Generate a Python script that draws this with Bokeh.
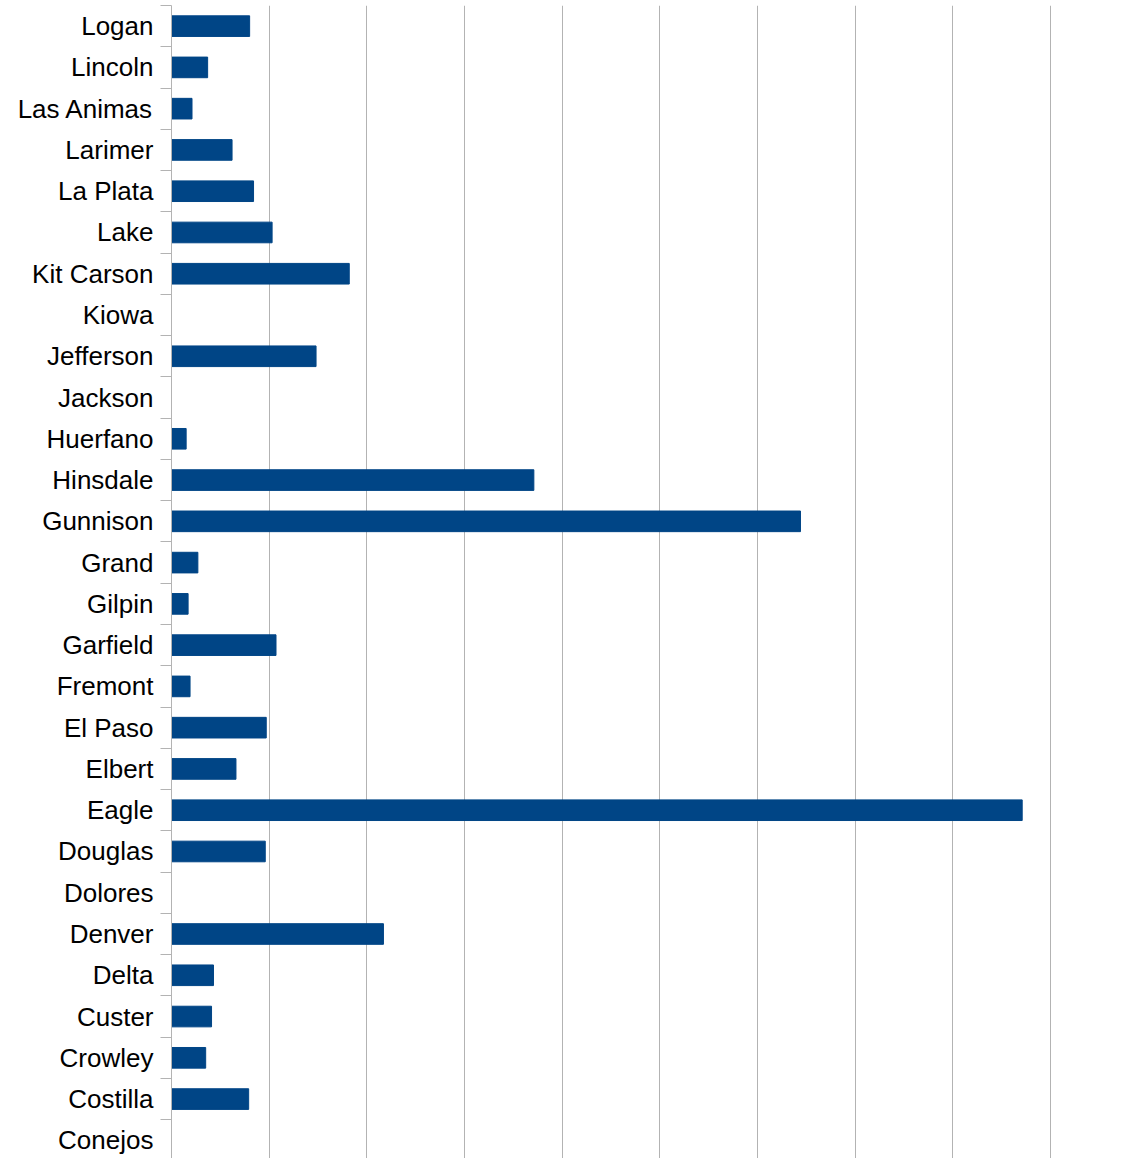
from bokeh.plotting import figure
from bokeh.models import Range1d, FixedTicker
from bokeh.embed import file_html
from bokeh.resources import INLINE

counties = ["Logan", "Lincoln", "Las Animas", "Larimer", "La Plata", "Lake",
            "Kit Carson", "Kiowa", "Jefferson", "Jackson", "Huerfano", "Hinsdale",
            "Gunnison", "Grand", "Gilpin", "Garfield", "Fremont", "El Paso",
            "Elbert", "Eagle", "Douglas", "Dolores", "Denver", "Delta", "Custer",
            "Crowley", "Costilla", "Conejos"]
values = [0.80, 0.37, 0.21, 0.62, 0.84, 1.03,
          1.82, 0.0, 1.48, 0.0, 0.15, 3.71,
          6.44, 0.27, 0.17, 1.07, 0.19, 0.97,
          0.66, 8.71, 0.96, 0.0, 2.17, 0.43, 0.41,
          0.35, 0.79, 0.0]
x_ticks = [0, 1, 2, 3, 4, 5, 6, 7, 8, 9]

n = len(counties)
pos = list(range(n))

p = figure(width=1129, height=1158, output_backend="svg", toolbar_location=None,
           x_range=Range1d(0, 9.01), y_range=Range1d(n - 0.56, -0.5),
           min_border_left=171, min_border_right=78, min_border_top=5, min_border_bottom=0)
p.outline_line_color = None
p.background_fill_color = "white"

p.hbar(y=pos, right=values, left=0, height=0.5, color="#004586")

p.xaxis.visible = False
p.xgrid.ticker = FixedTicker(ticks=x_ticks)
p.xgrid.grid_line_color = "#b3b3b3"
p.ygrid.grid_line_color = None

ya = p.yaxis[0]
ya.ticker = FixedTicker(ticks=pos, minor_ticks=[i - 0.5 for i in range(n + 1)])
ya.major_label_overrides = {i: c for i, c in enumerate(counties)}
ya.axis_line_color = "#b3b3b3"
ya.major_tick_line_color = None
ya.major_tick_out = 0
ya.major_tick_in = 0
ya.minor_tick_line_color = "#b3b3b3"
ya.minor_tick_out = 11
ya.minor_tick_in = 0
ya.major_label_standoff = 7
ya.major_label_text_font = "Liberation Sans"
ya.major_label_text_font_size = "26px"
ya.major_label_text_color = "black"

open("out.html", "w").write(file_html(p, INLINE))
